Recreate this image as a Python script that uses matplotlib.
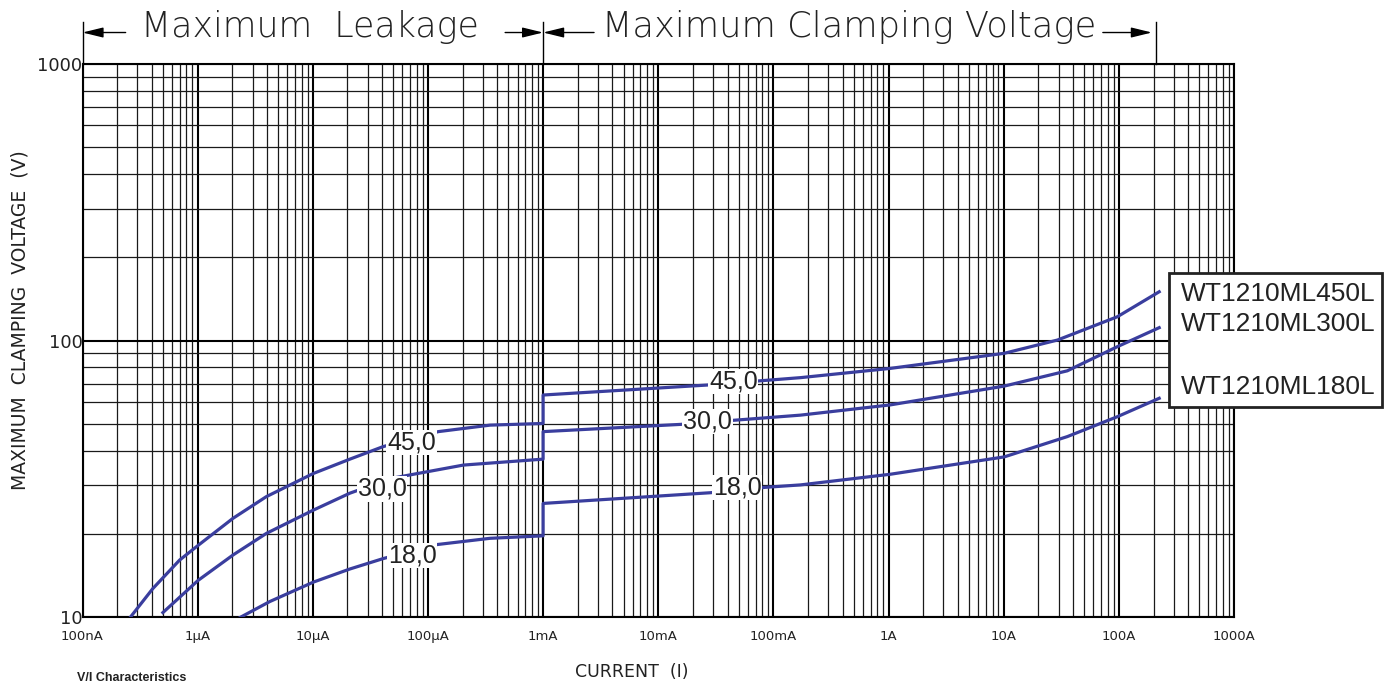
import matplotlib
matplotlib.use("Agg")
import matplotlib.pyplot as plt
from matplotlib.ticker import LogLocator, NullFormatter, FixedLocator, FixedFormatter
from matplotlib.patches import Rectangle

# current (A) / voltage (V)
i_450 = [2.6e-7, 4.08e-7, 6.97e-7, 1.01e-6, 2.03e-6, 3.95e-6, 1.01e-5, 2.1e-5, 4.08e-5, 1.23e-4, 3.46e-4, 1e-3,
         1e-3, 0.0265, 0.077, 0.172, 1.04, 10.1, 29.3, 97, 224]
v_450 = [10.0, 12.7, 16.1, 18.2, 22.8, 27.3, 33.1, 37.3, 41.4, 46.9, 49.5, 50.2,
         63.6, 69.1, 71.6, 73.5, 79.4, 90.0, 100.5, 122, 150.2]

i_300 = [4.99e-7, 1.01e-6, 2.03e-6, 3.95e-6, 1.01e-5, 2.1e-5, 4.83e-5, 2.03e-4, 1e-3,
         1e-3, 0.0155, 0.0468, 0.172, 1.04, 10.1, 35.7, 97, 224]
v_300 = [10.4, 13.6, 16.8, 20.1, 24.4, 28.1, 31.8, 35.5, 37.3,
         46.9, 49.8, 51.6, 53.8, 58.6, 68.5, 77.8, 95.1, 111.4]

i_180 = [2.35e-6, 4.23e-6, 1.01e-5, 2.1e-5, 4.08e-5, 1.11e-4, 3.46e-4, 1e-3,
         1e-3, 0.0283, 0.085, 0.172, 1.04, 10.1, 35.7, 97, 224]
v_180 = [10.0, 11.4, 13.4, 14.95, 16.3, 18.25, 19.3, 19.7,
         25.8, 28.2, 29.5, 30.1, 32.9, 38.0, 45.0, 53.1, 61.9]

# in-line curve labels (text, current, voltage)
curve_labels = [("45,0", 7.2e-5, 42.8), ("30,0", 4.0e-5, 29.1), ("18,0", 7.3e-5, 16.7),
                ("45,0", 0.0449, 71.1), ("30,0", 0.0267, 51.0), ("18,0", 0.0486, 29.4)]

x_ticks = [1e-7, 1e-6, 1e-5, 1e-4, 1e-3, 1e-2, 1e-1, 1, 10, 100, 1000]
x_tick_labels = ["100nA", "1\u00b5A", "10\u00b5A", "100\u00b5A", "1mA", "10mA",
                 "100mA", "1A", "10A", "100A", "1000A"]
y_ticks = [10, 100, 1000]
y_tick_labels = ["10", "100", "1000"]
models = ["WT1210ML450L", "WT1210ML300L", "WT1210ML180L"]

blue = "#3a3e9e"
ink = "#222222"

W, H = 1392, 686
fig = plt.figure(figsize=(W / 100, H / 100), dpi=100)
ax = fig.add_axes([82.5 / W, 1 - 617.3 / H, 1151.5 / W, 553.3 / H])
ax.set_xscale("log")
ax.set_yscale("log")
ax.set_xlim(1e-7, 1e3)
ax.set_ylim(10, 1000)

for i, v in [(i_450, v_450), (i_300, v_300), (i_180, v_180)]:
    ax.plot(i, v, color=blue, lw=2.3, solid_joinstyle="round", zorder=3)

for txt, x, y in curve_labels:
    ax.text(x, y, txt, ha="center", va="center", fontsize=18, color=ink,
            family="Liberation Sans", zorder=4,
            bbox=dict(facecolor="white", edgecolor="none", pad=0.5))

# grid
for axis in (ax.xaxis, ax.yaxis):
    axis.set_minor_locator(LogLocator(base=10, subs=range(2, 10), numticks=20))
    axis.set_minor_formatter(NullFormatter())
ax.grid(which="major", color="black", lw=1.5)
ax.grid(which="minor", color="#1a1a1a", lw=0.9)
ax.set_axisbelow(True)

ax.xaxis.set_major_locator(FixedLocator(x_ticks))
ax.xaxis.set_major_formatter(FixedFormatter(x_tick_labels))
ax.yaxis.set_major_locator(FixedLocator(y_ticks))
ax.yaxis.set_major_formatter(FixedFormatter(y_tick_labels))
ax.tick_params(which="both", length=0)
ax.tick_params(axis="x", pad=9, labelsize=9.5)
ax.tick_params(axis="y", pad=0, labelsize=13)
for lab in ax.get_xticklabels() + ax.get_yticklabels():
    lab.set_family("DejaVu Sans")
    lab.set_color(ink)
for s in ax.spines.values():
    s.set_linewidth(1.5)

ax.text(-0.0543, 0.537, "MAXIMUM  CLAMPING  VOLTAGE  (V)", transform=ax.transAxes,
        rotation=90, ha="center", va="center", fontsize=13.5, color=ink)
ax.text(0.477, -0.099, "CURRENT  (I)", transform=ax.transAxes,
        ha="center", va="center", fontsize=12.5, color=ink)

# dimension arrows on top
tr = ax.get_xaxis_transform()
for xb in (1e-7, 1e-3, 210):
    ax.plot([xb, xb], [1.0, 1.0759], color="black", lw=1.0, transform=tr, clip_on=False)
arrow = dict(arrowstyle="-|>,head_length=0.9,head_width=0.22", color="black", lw=1.0,
             mutation_scale=14, shrinkA=0, shrinkB=0)
y_arr = 1.0569
for x0, x1 in [(2.37e-7, 1e-7), (4.68e-4, 1e-3), (2.77e-3, 1e-3), (72.6, 193.6)]:
    ax.annotate("", xy=(x1, y_arr), xytext=(x0, y_arr), xycoords=tr, textcoords=tr,
                arrowprops=arrow, annotation_clip=False)
ax.text(9.4e-6, 1.0669, "Maximum  Leakage", transform=tr, ha="center", va="center",
        fontsize=25, family="DejaVu Sans", fontweight="light", color=ink)
ax.text(0.458, 1.0669, "Maximum Clamping Voltage", transform=tr, ha="center", va="center",
        fontsize=25.5, family="DejaVu Sans", fontweight="light", color=ink)

# model box
fig.add_artist(Rectangle((1169 / W, 1 - 407 / H), 213 / W, 134 / H,
                         transform=fig.transFigure, facecolor="white",
                         edgecolor=ink, lw=2, zorder=5))
for name, yp in zip(models, [294, 324, 387]):
    fig.text(1181 / W, 1 - yp / H, name, ha="left", va="center",
             fontsize=19, family="Liberation Sans", color=ink, zorder=6)

fig.text(77 / W, 1 - 684 / H, "V/I Characteristics", ha="left", va="bottom",
         fontsize=9, fontweight="bold", family="Liberation Sans", color=ink)

fig.savefig("out.png", dpi=100)
